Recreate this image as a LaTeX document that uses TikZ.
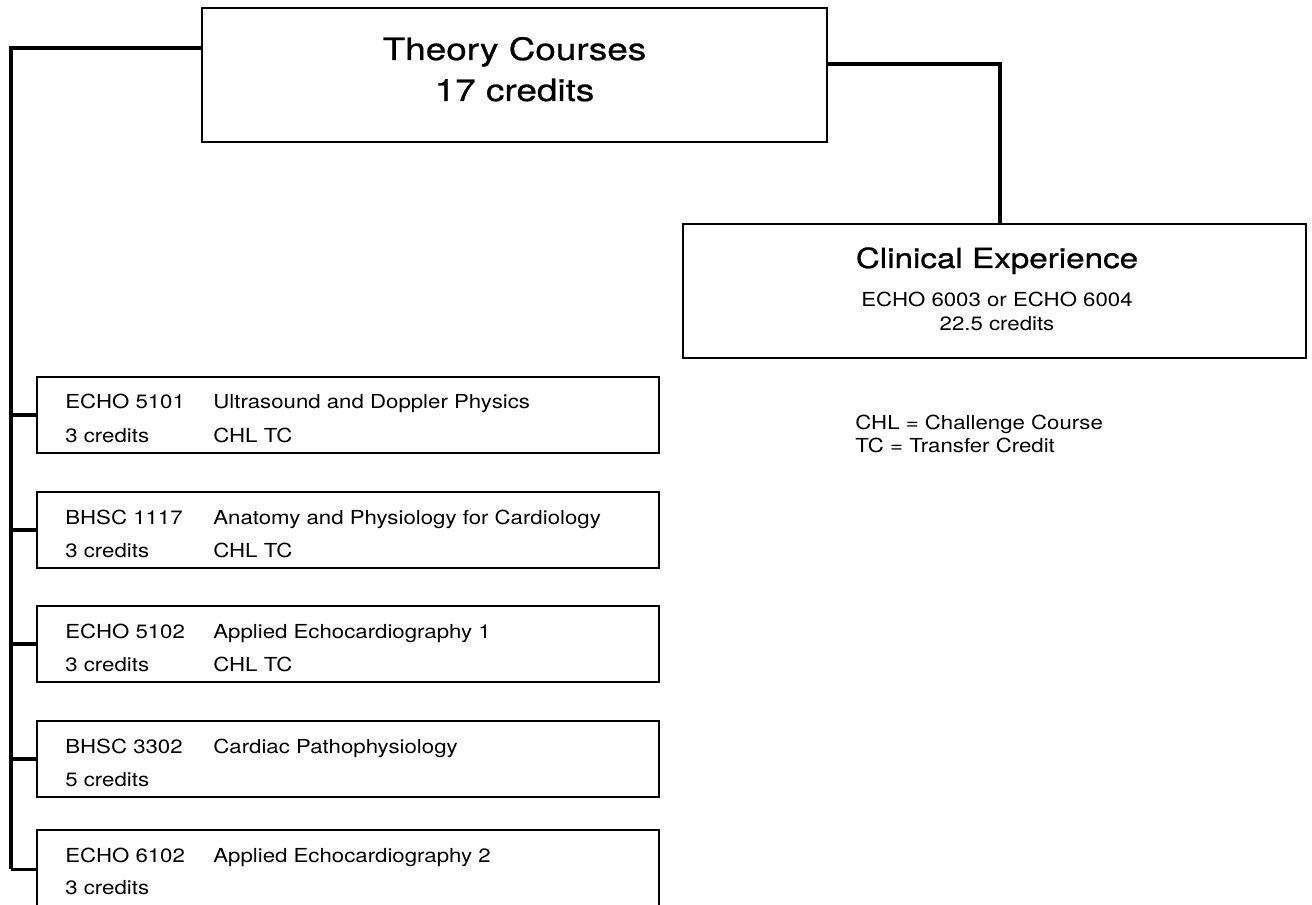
\documentclass[tikz,border=0pt]{standalone}
\usepackage{fontspec}
\setmainfont{TeX Gyre Heros}[FakeStretch=1.15]
\newfontfamily\headfont{TeX Gyre Heros}[FakeStretch=1.2, FakeBold=0.8]

\tikzset{
  plainbox/.style={draw, line width=1.1pt, inner sep=0pt, outer sep=0pt, anchor=north west},
  headbox/.style={plainbox, minimum width=12.5cm, minimum height=2.68cm},
  coursebox/.style={plainbox, minimum width=12.44cm, minimum height=1.52cm},
  link/.style={line width=1.8pt},
  txt/.style={inner sep=0pt, anchor=base west, font=\fontsize{11}{13}\selectfont},
  head/.style={inner sep=0pt, anchor=base, font=\headfont\fontsize{17.5}{20}\selectfont},
}

\begin{document}
\begin{tikzpicture}[x=0.02cm, y=-0.02cm]
        \fill[white] (0,0) rectangle (1312,905);
        \clip (0,0) rectangle (1312,905);

        % top boxes
        \node[headbox] (theory) at (202,8) {};
        \node[headbox, minimum width=12.46cm] (clinical) at (683,224) {};

        \node[head] (theoryA) at (514.5,60) {Theory Courses};
        \node[head] (theoryB) at (514.5,101) {17 credits};

        \node[head, font=\headfont\fontsize{15.75}{18}\selectfont] (clinA) at (997,268) {Clinical Experience};
        \node[head, font=\fontsize{11}{13}\selectfont] (clinB) at (997,307) {ECHO 6003 or ECHO 6004};
        \node[head, font=\fontsize{11}{13}\selectfont] (clinC) at (997,331) {22.5 credits};

        \node[txt] (keyA) at (855,430) {CHL = Challenge Course};
        \node[txt] (keyB) at (855,453) {TC = Transfer Credit};

        % courses
        \node[coursebox] (c1) at (37,377) {};
        \node[txt] (c1code) at (65,409) {ECHO 5101};
        \node[txt] (c1name) at (213,409) {Ultrasound and Doppler Physics};
        \node[txt] (c1cred) at (65,442) {3 credits};
        \node[txt] (c1note) at (213,442) {CHL TC};

        \node[coursebox] (c2) at (37,492) {};
        \node[txt] (c2code) at (65,524) {BHSC 1117};
        \node[txt] (c2name) at (213,524) {Anatomy and Physiology for Cardiology};
        \node[txt] (c2cred) at (65,557) {3 credits};
        \node[txt] (c2note) at (213,557) {CHL TC};

        \node[coursebox] (c3) at (37,606) {};
        \node[txt] (c3code) at (65,638) {ECHO 5102};
        \node[txt] (c3name) at (213,638) {Applied Echocardiography 1};
        \node[txt] (c3cred) at (65,671) {3 credits};
        \node[txt] (c3note) at (213,671) {CHL TC};

        \node[coursebox] (c4) at (37,721) {};
        \node[txt] (c4code) at (65,753) {BHSC 3302};
        \node[txt] (c4name) at (213,753) {Cardiac Pathophysiology};
        \node[txt] (c4cred) at (65,786) {5 credits};

        \node[coursebox, minimum height=1.58cm] (c5) at (37,830) {};
        \node[txt] (c5code) at (65,862) {ECHO 6102};
        \node[txt] (c5name) at (213,862) {Applied Echocardiography 2};
        \node[txt] (c5cred) at (65,894) {3 credits};

        % connectors
        \coordinate (spine) at (11,48);
        \coordinate (turn) at (1000,64);

        \draw[link] (theory.west |- spine) -- (spine) -- (spine |- c5.west);
        \draw[link] (spine |- c1.west) -- (c1.west);
        \draw[link] (spine |- c2.west) -- (c2.west);
        \draw[link] (spine |- c3.west) -- (c3.west);
        \draw[link] (spine |- c4.west) -- (c4.west);
        \draw[link] (spine |- c5.west) -- (c5.west);

        \draw[link] (theory.east |- turn) -- (turn) -- (turn |- clinical.north);
\end{tikzpicture}
\end{document}
